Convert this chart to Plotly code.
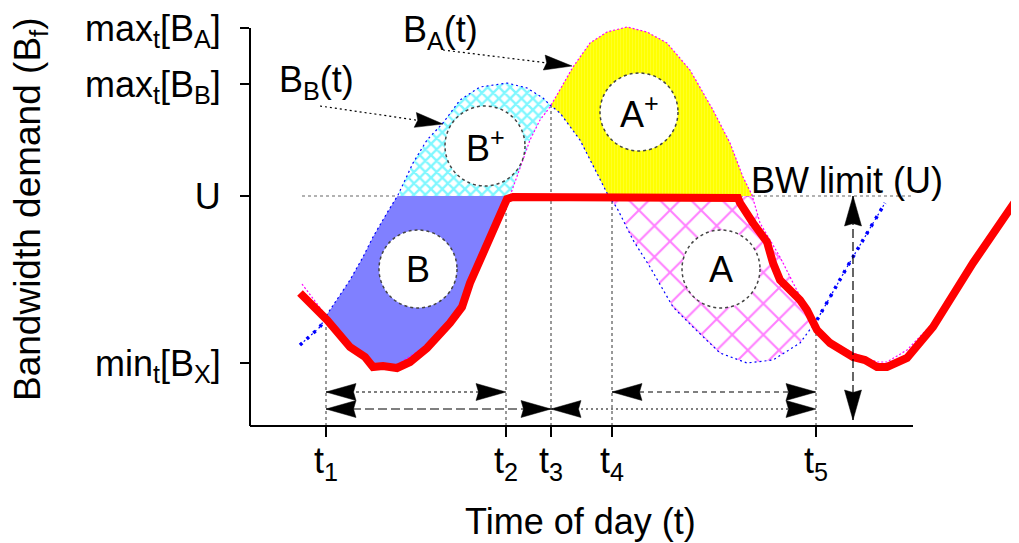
import numpy as np
import plotly.graph_objects as go

# ---------------- data (schematic units: time of day / bandwidth) ----------------
tick_times = [7.6, 25.6, 30.1, 36.2, 56.6]
tick_time_labels = ["t<sub>1</sub>", "t<sub>2</sub>", "t<sub>3</sub>", "t<sub>4</sub>", "t<sub>5</sub>"]
bw_levels = [6.3, 23.0, 34.2, 39.8]
bw_labels = ["min<sub>t</sub>[B<sub>X</sub>]", "U", "max<sub>t</sub>[B<sub>B</sub>]", "max<sub>t</sub>[B<sub>A</sub>]"]
U = 23.0
x_axis_end = 66.3

# B_B(t) demand curve (blue dotted)
bb_t = [5.0, 7.0, 7.8, 10.0, 11.3, 12.3, 13.7, 14.8, 16.3, 17.7, 19.3, 21.0, 23.0, 25.7, 27.7,
        29.3, 30.0, 31.0, 33.0, 35.8, 36.7, 38.3, 40.0, 42.3, 44.3, 47.0, 49.7, 52.3, 55.0,
        56.7, 60.0, 63.5]
bb_v = [8.1, 9.9, 11.3, 14.6, 16.9, 18.9, 21.3, 23.1, 26.3, 28.6, 30.3, 32.6, 33.9, 34.3, 33.8,
        32.8, 32.1, 31.3, 28.6, 23.1, 21.8, 18.6, 15.9, 11.9, 9.9, 7.3, 6.3, 6.6, 8.3,
        10.6, 16.4, 22.3]

# B_A(t) demand curve (magenta dotted)
ba_t = [5.2, 7.7, 10.0, 12.3, 14.7, 17.7, 20.0, 21.2, 26.0, 27.3, 28.0, 29.0, 30.0, 32.3, 34.0,
        35.7, 37.7, 39.7, 41.7, 44.0, 46.3, 48.0, 49.3, 50.2, 51.0, 53.0, 54.7, 55.7, 56.7,
        58.0, 60.3, 62.7, 63.7, 65.7, 68.3, 72.3, 76.7]
ba_v = [14.2, 10.9, 8.2, 6.2, 6.1, 8.1, 10.6, 12.2, 23.0, 26.6, 28.6, 30.6, 31.9, 35.9, 38.3,
        39.4, 39.9, 39.4, 38.3, 35.6, 31.6, 28.3, 24.9, 23.1, 20.3, 16.9, 13.6, 11.6, 9.6,
        8.6, 7.3, 6.4, 6.4, 7.6, 10.3, 16.6, 23.2]

# aggregate capped demand (thick red)
red_t = [5.0, 7.7, 10.0, 11.5, 12.3, 13.3, 14.7, 16.0, 17.7, 20.0, 21.2, 22.0, 25.7, 26.3,
         48.8, 49.0, 50.3, 51.7, 52.3, 53.0, 55.0, 55.7, 56.7, 58.0, 60.3, 61.5, 62.7, 63.7,
         65.7, 67.3, 68.3, 72.3, 76.7, 77.5]
red_v = [13.3, 10.6, 7.9, 6.9, 5.9, 6.0, 5.8, 6.4, 7.8, 10.3, 11.9, 14.3, 22.7, 22.9,
         22.8, 22.3, 20.3, 18.4, 16.3, 14.6, 12.6, 11.6, 9.6, 8.3, 6.9, 6.6, 5.9, 5.9,
         6.8, 8.6, 9.9, 16.3, 22.9, 23.9]

FONT = "Liberation Sans, Arial, Helvetica, sans-serif"

# page geometry (the html body adds an 8 px offset)
PLOT_LEFT, PLOT_BOTTOM, PLOT_W, PLOT_H = 250, 426, 769, 418


def px_paper(px, py):
    return (px - PLOT_LEFT) / PLOT_W, (PLOT_BOTTOM - py) / PLOT_H


def f_bb(x):
    return np.interp(x, bb_t, bb_v)


def f_ba(x):
    return np.interp(x, ba_t, ba_v)


def f_red(x):
    return np.interp(x, red_t, red_v)


def band(lo, hi, lower_fn, upper_fn):
    g = np.linspace(lo, hi, 1200)
    lv = lower_fn(g)
    uv = upper_fn(g)
    m = uv > lv
    gx = g[m]
    return (np.concatenate([gx, gx[::-1]]),
            np.concatenate([uv[m], lv[m][::-1]]))


fig = go.Figure()

# Region B (solid blue) : between red and min(B_B, U)
xs, ys = band(5, 27, f_red, lambda x: np.minimum(f_bb(x), U))
fig.add_trace(go.Scatter(x=xs, y=ys, fill="toself", mode="none",
                         fillcolor="rgb(128,128,255)"))
# Region B+ (cyan cross-hatch) : between max(U, B_A) and B_B
xs, ys = band(14, 31, lambda x: np.maximum(U, f_ba(x)), f_bb)
fig.add_trace(go.Scatter(x=xs, y=ys, fill="toself", mode="none",
                         fillcolor="rgba(0,0,0,0)",
                         fillpattern=dict(shape="x", fgcolor="#00f0ff", bgcolor="white",
                                          size=8, solidity=0.5)))
# Region A+ (yellow) : between max(U, B_B) and B_A
xs, ys = band(29, 52, lambda x: np.maximum(U, f_bb(x)), f_ba)
fig.add_trace(go.Scatter(x=xs, y=ys, fill="toself", mode="none",
                         fillcolor="#ffff00",
                         fillpattern=dict(shape="|", fgcolor="#ffff80", bgcolor="#ffff00",
                                          size=3, solidity=0.2)))
# Region A (magenta cross-hatch) : between B_B and min(U, B_A)
xs, ys = band(33, 58, f_bb, lambda x: np.minimum(U, f_ba(x)))
fig.add_trace(go.Scatter(x=xs, y=ys, fill="toself", mode="none",
                         fillcolor="rgba(0,0,0,0)",
                         fillpattern=dict(shape="x", fgcolor="#ff00ff", bgcolor="rgba(0,0,0,0)",
                                          size=22, solidity=0.18)))

# curves
fig.add_trace(go.Scatter(x=bb_t, y=bb_v, mode="lines",
                         line=dict(color="#0000ff", width=1.2, dash="2px,3px")))
bbt = np.array(bb_t)
bbv = np.array(bb_v)
for m in (bbt <= 7.8, bbt >= 56.7):
    fig.add_trace(go.Scatter(x=bbt[m], y=bbv[m], mode="lines",
                             line=dict(color="#0000ff", width=3.5, dash="3px,6px")))
fig.add_trace(go.Scatter(x=ba_t, y=ba_v, mode="lines",
                         line=dict(color="#ff00ff", width=1.2, dash="2px,2px")))
fig.add_trace(go.Scatter(x=red_t, y=red_v, mode="lines",
                         line=dict(color="#ff0000", width=8)))

shapes = []
# U level dotted line
shapes.append(dict(type="line", x0=5.2, x1=x_axis_end, y0=U, y1=U, layer="below",
                   line=dict(color="#666666", width=1.2, dash="3px,3px")))
# vertical guide lines at t1..t5
tops = [f_red(tick_times[0]), U, f_bb(tick_times[2]), f_bb(tick_times[3]), f_red(tick_times[4])]
for t, top in zip(tick_times, tops):
    shapes.append(dict(type="line", x0=t, x1=t, y0=0, y1=float(top), layer="below",
                       line=dict(color="#333333", width=1, dash="3px,3px")))
# axis spines
shapes.append(dict(type="line", xref="paper", x0=0, x1=0, yref="y", y0=0, y1=bw_levels[-1],
                   line=dict(color="black", width=2)))
shapes.append(dict(type="line", xref="x", x0=0, x1=x_axis_end, yref="paper", y0=0, y1=0,
                   line=dict(color="black", width=2)))


def head(tip, direction, L=3.0, W=0.85, notch=0.25):
    d = np.array(direction, dtype=float)
    d /= np.hypot(*d)
    p = np.array([-d[1], d[0]])
    tip = np.array(tip, dtype=float)
    b = tip - L * d
    p1 = b + W * p
    p2 = b - W * p
    n = tip - (L - notch) * d
    path = "M {:.3f},{:.3f} L {:.3f},{:.3f} L {:.3f},{:.3f} L {:.3f},{:.3f} Z".format(
        tip[0], tip[1], p1[0], p1[1], n[0], n[1], p2[0], p2[1])
    return dict(type="path", path=path, fillcolor="black", line=dict(color="black", width=0.5),
                layer="above")


def double_arrow(a, b, y, dash):
    shapes.append(dict(type="line", x0=a, x1=b, y0=y, y1=y, layer="above",
                       line=dict(color="black", width=1.2, dash=dash)))
    shapes.append(head((a, y), (-1, 0)))
    shapes.append(head((b, y), (1, 0)))


row1, row2 = 3.4, 1.7
double_arrow(tick_times[0], tick_times[1], row1, "3px,3px")
double_arrow(tick_times[3], tick_times[4], row1, "5px,4px")
double_arrow(tick_times[0], tick_times[2], row2, "9px,4px")
double_arrow(tick_times[2], tick_times[4], row2, "2px,3px")

# vertical double arrow (distance U -> 0)
vx = 60.3
shapes.append(dict(type="line", x0=vx, x1=vx, y0=0.6, y1=U, layer="above",
                   line=dict(color="black", width=1.2, dash="9px,4px")))
shapes.append(head((vx, U), (0, 1)))
shapes.append(head((vx, 0.6), (0, -1)))

# label pointer arrows
for (x0, y0), (x1, y1) in [((7.0, 32.0), (19.3, 30.2)), ((19.3, 37.6), (32.2, 36.0))]:
    shapes.append(dict(type="line", x0=x0, y0=y0, x1=x1 - 1.5, y1=y1 + 1.5 * (y0 - y1) / (x1 - x0),
                       layer="above", line=dict(color="black", width=1.2, dash="2px,3px")))
    shapes.append(head((x1, y1), (x1 - x0, y1 - y0), L=2.8, W=0.75))

# region label circles
circles = [("B", 16.8, 15.7, 3.9), ("B<sup>+</sup>", 23.5, 28.0, 4.0),
           ("A<sup>+</sup>", 38.9, 31.4, 3.9), ("A", 47.1, 15.7, 3.9)]
annotations = []
for txt, cx, cy, r in circles:
    shapes.append(dict(type="circle", x0=cx - r, x1=cx + r, y0=cy - r, y1=cy + r, layer="above",
                       fillcolor="white", line=dict(color="#444444", width=1.5, dash="dot")))
    annotations.append(dict(x=cx, y=cy, text=txt, showarrow=False,
                            font=dict(size=36, color="black", family=FONT),
                            xanchor="center", yanchor="middle"))

tx, ty = px_paper(580, 521)
yx, yy = px_paper(30, 209)
annotations += [
    dict(x=6.6, y=34.4, text="B<sub>B</sub>(t)", showarrow=False, xanchor="center", yanchor="middle",
         font=dict(size=36, color="black", family=FONT)),
    dict(x=19.0, y=39.4, text="B<sub>A</sub>(t)", showarrow=False, xanchor="center", yanchor="middle",
         font=dict(size=36, color="black", family=FONT)),
    dict(x=59.7, y=24.6, text="BW limit (U)", showarrow=False, xanchor="center", yanchor="middle",
         font=dict(size=36, color="black", family=FONT)),
    dict(xref="paper", yref="paper", x=tx, y=ty,
         text="Time of day (t)", showarrow=False, xanchor="center", yanchor="middle",
         font=dict(size=36, color="black", family=FONT)),
    dict(xref="paper", yref="paper", x=yx, y=yy,
         text="Bandwidth demand (B<sub>f</sub>)", textangle=-90, showarrow=False,
         xanchor="center", yanchor="middle",
         font=dict(size=37, color="black", family=FONT)),
]

fig.update_layout(
    width=1011, height=535,
    margin=dict(l=242, r=0, t=0, b=117, pad=0, autoexpand=False),
    paper_bgcolor="white", plot_bgcolor="white",
    showlegend=False, hovermode=False,
    shapes=shapes, annotations=annotations,
    font=dict(family=FONT, size=36, color="black"),
)
fig.update_xaxes(range=[0, 76.9], showgrid=False, zeroline=False, showline=False,
                 automargin=False, ticklabeloverflow="allow",
                 ticks="outside", ticklen=10, tickwidth=1.5, tickcolor="black",
                 tickvals=tick_times, ticktext=tick_time_labels, ticklabelstandoff=-7,
                 tickfont=dict(size=36, family=FONT, color="black"))
fig.update_yaxes(range=[0, 41.8], showgrid=False, zeroline=False, showline=False,
                 automargin=False, ticklabeloverflow="allow",
                 ticks="outside", ticklen=9, tickwidth=1.5, tickcolor="black",
                 tickvals=bw_levels, ticktext=bw_labels, ticklabelstandoff=12,
                 tickfont=dict(size=36, family=FONT, color="black"))

fig.write_html("out.html")
